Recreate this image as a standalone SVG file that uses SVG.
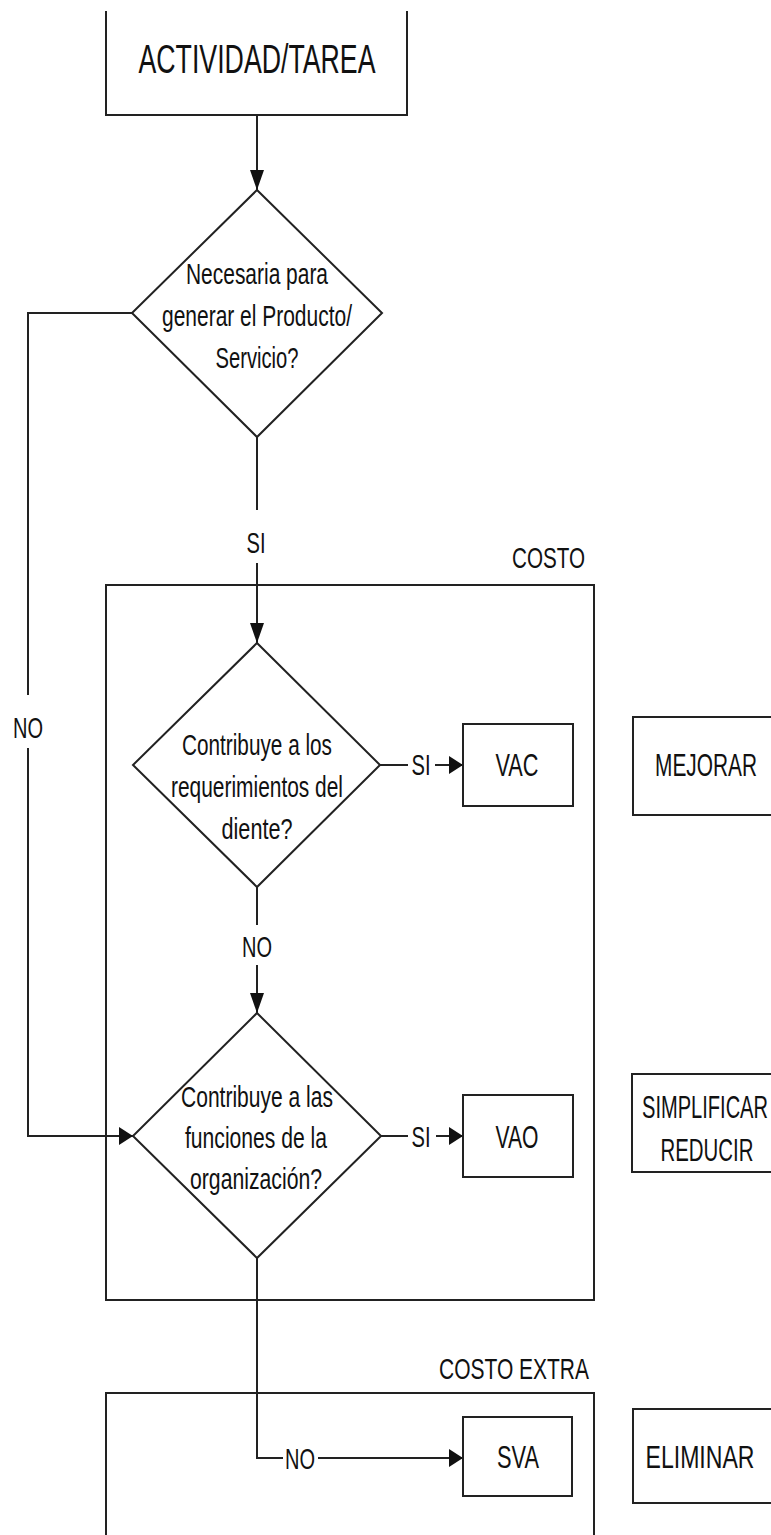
<svg xmlns="http://www.w3.org/2000/svg" width="771" height="1535" viewBox="0 0 771 1535">
<style>
.ln{fill:none;stroke:#222;stroke-width:2}
.bx{fill:#fff;stroke:#222;stroke-width:2}
.t{font-family:"Liberation Sans",Arial,sans-serif;font-size:30px;fill:#111;text-anchor:middle}
.tb{font-size:31px}
.tr{text-anchor:end}
</style>
<defs>
<marker id="av" markerUnits="userSpaceOnUse" markerWidth="22" markerHeight="16" refX="20" refY="7" orient="auto"><path d="M0,0 L20,7 L0,14 Z" fill="#111"/></marker>
<marker id="ah" markerUnits="userSpaceOnUse" markerWidth="16" markerHeight="20" refX="14" refY="9" orient="auto"><path d="M0,0 L14,9 L0,18 Z" fill="#111"/></marker>
</defs>
<rect x="0" y="0" width="771" height="1535" fill="#fff"/>

<g id="grp-costo">
<rect class="ln" x="106" y="585" width="488" height="715"/>
<text class="t tr" x="585" y="568" textLength="73" lengthAdjust="spacingAndGlyphs">COSTO</text>
</g>
<g id="grp-costo-extra">
<path class="ln" d="M106,1540 V1393 H594 V1540"/>
<text class="t tr" x="589" y="1379" textLength="150" lengthAdjust="spacingAndGlyphs">COSTO EXTRA</text>
</g>

<g id="connectors">
<path class="ln" d="M257,115 V190" marker-end="url(#av)"/>
<path class="ln" d="M257,437 V510"/>
<text class="t" x="256" y="553" textLength="19" lengthAdjust="spacingAndGlyphs">SI</text>
<path class="ln" d="M257,563 V643" marker-end="url(#av)"/>
<path class="ln" d="M132,313 H28 V695"/>
<text class="t" x="28" y="738" textLength="30" lengthAdjust="spacingAndGlyphs">NO</text>
<path class="ln" d="M28,748 V1136 H133" marker-end="url(#ah)"/>
<path class="ln" d="M380,765 H408"/>
<text class="t" x="421" y="775" textLength="19" lengthAdjust="spacingAndGlyphs">SI</text>
<path class="ln" d="M435,765 H463" marker-end="url(#ah)"/>
<path class="ln" d="M257,887 V925"/>
<text class="t" x="257" y="957" textLength="30" lengthAdjust="spacingAndGlyphs">NO</text>
<path class="ln" d="M257,965 V1013" marker-end="url(#av)"/>
<path class="ln" d="M381,1136 H408"/>
<text class="t" x="421" y="1147" textLength="19" lengthAdjust="spacingAndGlyphs">SI</text>
<path class="ln" d="M436,1136 H463" marker-end="url(#ah)"/>
<path class="ln" d="M257,1258 V1458 H283"/>
<text class="t" x="300" y="1469" textLength="30" lengthAdjust="spacingAndGlyphs">NO</text>
<path class="ln" d="M318,1458 H463" marker-end="url(#ah)"/>
</g>

<g id="n-actividad">
<path class="ln" d="M106,11 V115 H407 V11"/>
<text class="t" x="257" y="73" style="font-size:41px" textLength="237" lengthAdjust="spacingAndGlyphs">ACTIVIDAD/TAREA</text>
</g>

<g id="n-necesaria">
<polygon class="bx" points="257,190 382,313 257,437 132,313"/>
<text class="t" x="257" y="284" textLength="142" lengthAdjust="spacingAndGlyphs">Necesaria para</text>
<text class="t" x="257" y="326" textLength="190" lengthAdjust="spacingAndGlyphs">generar el Producto/</text>
<text class="t" x="257" y="368" textLength="83" lengthAdjust="spacingAndGlyphs">Servicio?</text>
</g>

<g id="n-cliente">
<polygon class="bx" points="257,643 380,765 257,887 133,765"/>
<text class="t" x="257" y="755" textLength="150" lengthAdjust="spacingAndGlyphs">Contribuye a los</text>
<text class="t" x="257" y="797" textLength="172" lengthAdjust="spacingAndGlyphs">requerimientos del</text>
<text class="t" x="257" y="839" textLength="71" lengthAdjust="spacingAndGlyphs">diente?</text>
</g>

<g id="n-organizacion">
<polygon class="bx" points="257,1013 381,1136 257,1258 133,1136"/>
<text class="t" x="257" y="1107" textLength="152" lengthAdjust="spacingAndGlyphs">Contribuye a las</text>
<text class="t" x="256" y="1148" textLength="142" lengthAdjust="spacingAndGlyphs">funciones de la</text>
<text class="t" x="256" y="1189" textLength="132" lengthAdjust="spacingAndGlyphs">organización?</text>
</g>

<g id="n-vac">
<rect class="bx" x="463" y="724" width="110" height="82"/>
<text class="t tb" x="517" y="776" textLength="43" lengthAdjust="spacingAndGlyphs">VAC</text>
</g>
<g id="n-vao">
<rect class="bx" x="463" y="1095" width="110" height="82"/>
<text class="t tb" x="517" y="1148" textLength="43" lengthAdjust="spacingAndGlyphs">VAO</text>
</g>
<g id="n-sva">
<rect class="bx" x="463" y="1417" width="109" height="79"/>
<text class="t tb" x="518" y="1468" textLength="42" lengthAdjust="spacingAndGlyphs">SVA</text>
</g>

<g id="n-mejorar">
<rect class="bx" x="633" y="717" width="150" height="98"/>
<text class="t tb" x="706" y="776" textLength="102" lengthAdjust="spacingAndGlyphs">MEJORAR</text>
</g>
<g id="n-simplificar">
<rect class="bx" x="632" y="1074" width="150" height="98"/>
<text class="t tb" x="705" y="1118" textLength="126" lengthAdjust="spacingAndGlyphs">SIMPLIFICAR</text>
<text class="t tb" x="707" y="1161" textLength="93" lengthAdjust="spacingAndGlyphs">REDUCIR</text>
</g>
<g id="n-eliminar">
<rect class="bx" x="633" y="1409" width="150" height="94"/>
<text class="t tb" x="700" y="1468" textLength="109" lengthAdjust="spacingAndGlyphs">ELIMINAR</text>
</g>
</svg>
